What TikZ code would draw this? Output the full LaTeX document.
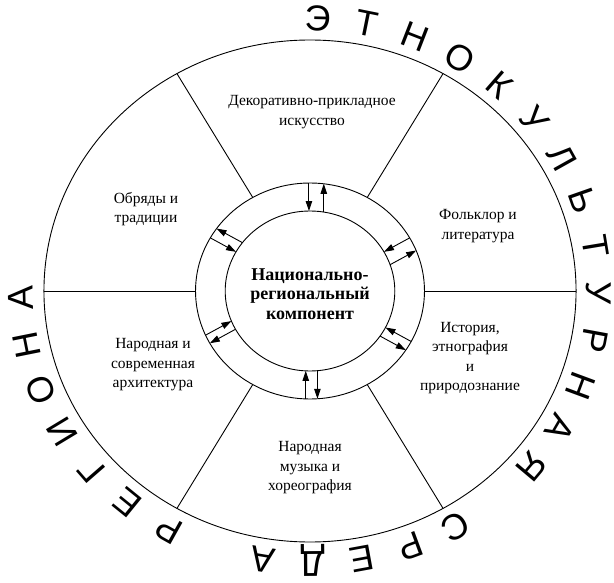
\documentclass[tikz,border=0pt]{standalone}
\usepackage{fontspec}
\setmainfont{Liberation Serif}
\newfontfamily\ringfont{Liberation Sans}
\usetikzlibrary{arrows.meta}
\begin{document}
\begin{tikzpicture}[x=1pt,y=1pt,
  lbl/.style={align=center, font=\fontsize{15.5}{19.5}\selectfont, inner sep=0pt},
  ctr/.style={align=center, font=\bfseries\fontsize{18}{19.3}\selectfont, inner sep=0pt},
  ringletter/.style={font=\ringfont\fontsize{36}{36}\selectfont, inner sep=0pt, text height=25.5pt, text depth=0pt},
  lnk/.style={line width=0.9pt, -{Triangle[length=10pt,width=6.5pt]}},
  edge/.style={line width=0.9pt}]
\useasboundingbox (0,0) rectangle (614,582);
\begin{scope}[shift={(310,291)}, xscale=1.06]
  \draw[edge] (0,0) circle (251);
  \draw[edge] (0,0) circle (108);
  \draw[edge] (0,0) circle (80);
  \foreach \a in {0,60,...,300} {
    \coordinate (di\a) at (\a:108);
    \coordinate (do\a) at (\a:251);
    \draw[edge] (di\a) -- (do\a);
  }
  \foreach \a/\din/\dout [count=\k] in {90/-1/13, 30/1/15, 150/-1/10, 210/11/2, 270/4/-7, 330/-4/6} {
    \pgfmathsetmacro\ria{sqrt(108*108-\din*\din)}
    \pgfmathsetmacro\rib{sqrt(80*80-\din*\din)}
    \pgfmathsetmacro\roa{sqrt(108*108-\dout*\dout)}
    \pgfmathsetmacro\rob{sqrt(80*80-\dout*\dout)}
    \coordinate (ina\k) at ({\ria*cos(\a)+\din*sin(\a)},{\ria*sin(\a)-\din*cos(\a)});
    \coordinate (inb\k) at ({\rib*cos(\a)+\din*sin(\a)},{\rib*sin(\a)-\din*cos(\a)});
    \coordinate (outa\k) at ({\roa*cos(\a)+\dout*sin(\a)},{\roa*sin(\a)-\dout*cos(\a)});
    \coordinate (outb\k) at ({\rob*cos(\a)+\dout*sin(\a)},{\rob*sin(\a)-\dout*cos(\a)});
    \draw[lnk] (ina\k) -- (inb\k);
    \draw[lnk] (outb\k) -- (outa\k);
  }
  \foreach \i/\ch in {0/Э,1/Т,2/Н,3/О,4/К,5/У,6/Л,7/Ь,8/Т,9/У,10/Р,11/Н,12/А,13/Я,15/С,16/Р,17/Е,18/Д,19/А,21/Р,22/Е,23/Г,24/И,25/О,26/Н,27/А} {
    \pgfmathsetmacro\ang{88.5-9.89*\i}
    \node[ringletter, rotate=\ang-90] (ch\i) at (\ang:273) {\ch};
  }
\end{scope}
\node[ctr] (center) at (310,288) {Национально-\\региональный\\компонент};
\node[lbl] (s1) at (312,470) {Декоративно-прикладное\\искусство};
\node[lbl] (s2) at (478,356) {Фольклор и\\литература};
\node[lbl] (s3) at (470,224) {История,\\этнография\\и\\природознание};
\node[lbl] (s4) at (310,114) {Народная\\музыка и\\хореография};
\node[lbl] (s5) at (153,217) {Народная и\\современная\\архитектура};
\node[lbl] (s6) at (146,373) {Обряды и\\традиции};
\end{tikzpicture}
\end{document}
